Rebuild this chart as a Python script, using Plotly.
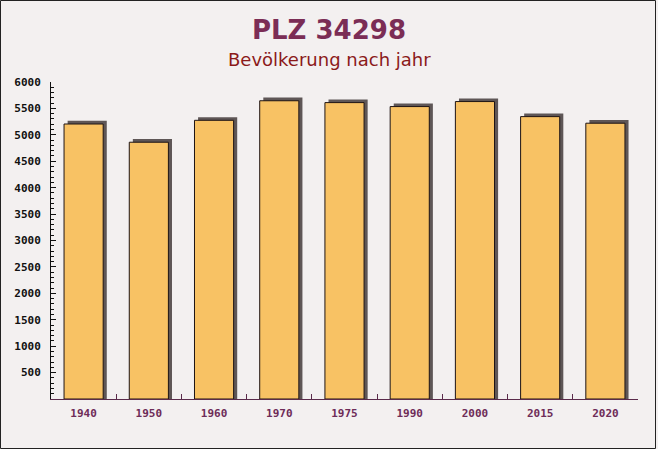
import plotly.graph_objects as go

# ---- data ----
years = ["1940", "1950", "1960", "1970", "1975", "1990", "2000", "2015", "2020"]
population = [5205, 4860, 5275, 5645, 5610, 5535, 5630, 5345, 5220]
y_ticks = [500, 1000, 1500, 2000, 2500, 3000, 3500, 4000, 4500, 5000, 5500, 6000]

title_text = "PLZ 34298"
subtitle_text = "Bevölkerung nach jahr"

# ---- layout constants ----
W, H = 658, 449
ML, MR, MT, MB = 51, 20, 82, 50
PW, PH = W - ML - MR, H - MT - MB

bar_w = 0.6
shadow_dx = 0.055
shadow_dy = 60

fig = go.Figure()

# 3D-ish shadow behind each bar
fig.add_trace(go.Bar(
    x=years, y=[v + shadow_dy for v in population],
    width=bar_w, offset=-bar_w / 2 + shadow_dx,
    marker=dict(color="#5E5656", line=dict(width=0)),
    hoverinfo="skip", showlegend=False,
))

# main bars
fig.add_trace(go.Bar(
    x=years, y=population,
    width=bar_w, offset=-bar_w / 2,
    marker=dict(color="#F8C264", line=dict(color="#1E1414", width=1)),
    showlegend=False,
))

fig.update_layout(
    width=W, height=H,
    margin=dict(l=ML, r=MR, t=MT, b=MB),
    paper_bgcolor="#F3F0F0",
    plot_bgcolor="rgba(0,0,0,0)",
    barmode="overlay",
    showlegend=False,
    xaxis=dict(
        type="category",
        showgrid=False,
        showline=True, linecolor="#5A2A4A", linewidth=1,
        ticks="inside", ticklen=5, tickcolor="#5A2A4A",
        tickson="boundaries",
        ticklabelstandoff=4,
        tickfont=dict(family="DejaVu Sans Mono", size=11, color="#6E2C58", weight="bold"),
        range=[-0.5, 8.5],
    ),
    yaxis=dict(
        range=[0, 6000],
        showgrid=False, zeroline=False,
        showline=True, linecolor="#111111", linewidth=1,
        tickvals=y_ticks, ticktext=[str(v) for v in y_ticks],
        ticks="inside", ticklen=5, tickcolor="#111111",
        ticklabelstandoff=7,
        minor=dict(dtick=100, ticks="inside", ticklen=3, tickcolor="#111111", showgrid=False),
        tickfont=dict(family="DejaVu Sans Mono", size=11, color="#111111", weight="bold"),
    ),
    annotations=[
        dict(text=title_text, xref="paper", yref="paper",
             x=0.5 - (ML - MR) / 2 / PW, y=1 + (MT - 30) / PH,
             xanchor="center", yanchor="middle", showarrow=False,
             font=dict(family="DejaVu Sans", size=26, color="#7B2D55", weight="bold")),
        dict(text=subtitle_text, xref="paper", yref="paper",
             x=0.5 - (ML - MR) / 2 / PW, y=1 + (MT - 59) / PH,
             xanchor="center", yanchor="middle", showarrow=False,
             font=dict(family="DejaVu Sans", size=18, color="#8B1A1A")),
    ],
    shapes=[
        dict(type="rect", xref="paper", yref="paper",
             x0=-(ML - 0.5) / PW, x1=1 + (MR - 2.5) / PW,
             y0=-(MB - 0.5) / PH, y1=1 + (MT - 0.5) / PH,
             line=dict(color="#222222", width=1), layer="below"),
    ],
)

fig.write_html("out.html")
